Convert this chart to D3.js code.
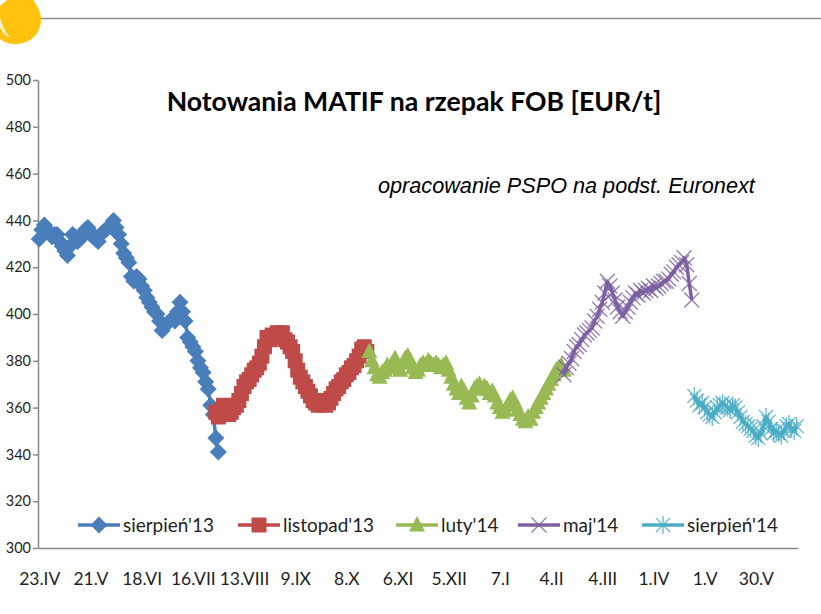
<!DOCTYPE html>
<html>
<head>
<meta charset="utf-8">
<script src="https://cdn.jsdelivr.net/npm/d3@7"></script>
<style>
  body { margin: 0; background: #fff; }
  svg { display: block; }
</style>
</head>
<body>
<div id="chart"></div>
<script>
// --- data (EUR/t, one value per trading day) ---
const nDays = 297;
const tickEvery = 20;  // one date label every 20 sessions
const tickLabels = ["23.IV", "21.V", "18.VI", "16.VII", "13.VIII", "9.IX", "8.X", "6.XI",
  "5.XII", "7.I", "4.II", "4.III", "1.IV", "1.V", "30.V"];
const yTicks = [300, 320, 340, 360, 380, 400, 420, 440, 460, 480, 500];

const seriesNames = ["sierpień'13", "listopad'13", "luty'14", "maj'14", "sierpień'14"];
const seriesStart = [0, 69, 129, 205, 256];

const sierpien13 = [432, 436, 438, 436, 435, 433, 434, 434, 431, 429,
  427, 425, 429, 434, 433, 431, 432, 434, 436, 437,
  435, 433, 432, 431, 434, 435, 436, 437, 438, 440,
  437, 434, 430, 426, 424, 422, 416, 414, 416, 415,
  412, 410, 407, 405, 403, 401, 400, 397, 393, 395,
  396, 397, 398, 397, 401, 405, 401, 397, 390, 388,
  386, 384, 380, 377, 375, 371, 368, 361, 357, 347,
  341];
const listopad13 = [358, 356, 359, 361, 360, 357, 358, 360, 361, 363,
  366, 369, 371, 372, 374, 376, 377, 379, 382, 386,
  390, 389, 391, 390, 392, 391, 392, 389, 388, 386,
  384, 380, 376, 373, 371, 369, 367, 365, 363, 362,
  361, 363, 362, 361, 362, 364, 366, 368, 369, 371,
  372, 374, 375, 377, 378, 380, 382, 385, 386, 384];
const luty14 = [384, 380, 377, 374, 373, 375, 376, 378, 377, 379,
  381, 378, 376, 379, 381, 382, 380, 377, 375, 376,
  378, 379, 378, 380, 379, 378, 379, 378, 377, 378,
  379, 376, 373, 370, 368, 366, 369, 367, 364, 362,
  365, 368, 369, 370, 368, 369, 368, 366, 367, 365,
  362, 360, 358, 359, 361, 363, 364, 362, 359, 357,
  355, 354, 356, 355, 358, 360, 362, 364, 366, 368,
  370, 372, 374, 376, 377, 378, 376];
const maj14 = [374, 377, 379, 381, 384, 386, 387, 389, 391, 392,
  393, 394, 397, 399, 402, 405, 409, 414, 412, 409,
  406, 403, 401, 399, 401, 403, 405, 407, 409, 408,
  410, 409, 410, 411, 410, 412, 411, 412, 413, 414,
  414, 415, 417, 418, 420, 421, 422, 424, 421, 413,
  406];
const sierpien14 = [365, 363, 361, 362, 360, 358, 357, 356, 358, 360,
  361, 362, 361, 360, 359, 361, 360, 358, 356, 354,
  353, 352, 351, 350, 348, 347, 349, 352, 356, 354,
  351, 349, 350, 349, 348, 350, 352, 353, 351, 350,
  352];

const seriesValues = [sierpien13, listopad13, luty14, maj14, sierpien14];

// --- styles ---
const colors = ["#4A7EBB", "#BE4B48", "#98B954", "#7D60A0", "#4BACC6"];
const markers = ["diamond", "square", "triangle", "x", "star"];
const legendX = [78, 238, 396, 518, 642];

const W = 821, H = 614;
const plot = { left: 38, right: 798, top: 80, bottom: 548 };
const textFont = "Lato, sans-serif";

const svg = d3.select("#chart").append("svg")
  .attr("width", W)
  .attr("height", H);

svg.append("rect").attr("width", W).attr("height", H).attr("fill", "#fff");

// logo blob and header rule at the top
svg.append("path")
  .attr("d", "M11,-3 L31,-3 C37,5 41,12 41,19 C41,34 30,44 15,44 C1,44 -9,33 -9,20 C-9,10 3,4 11,-3 Z")
  .attr("fill", "#FFC20E");
svg.append("path")
  .attr("d", "M0,18 C3,26 5,32 10,37 C3,36 -1,28 -1,20 Z")
  .attr("fill", "#FFF1C4");
svg.append("line")
  .attr("x1", 41).attr("x2", W)
  .attr("y1", 18.5).attr("y2", 18.5)
  .attr("stroke", "#8c8c8c")
  .attr("stroke-width", 1.5);

// scales
const x = d3.scaleLinear().domain([0, nDays]).range([plot.left, plot.right]);
const y = d3.scaleLinear().domain([300, 500]).range([plot.bottom, plot.top]);

// y axis
const yAxis = svg.append("g")
  .attr("transform", `translate(${plot.left},0)`)
  .call(d3.axisLeft(y).tickValues(yTicks).tickSize(5).tickPadding(2).tickSizeOuter(0));
yAxis.select(".domain").attr("stroke", "#898989").attr("stroke-width", 1.5);
yAxis.selectAll(".tick line").attr("stroke", "#898989").attr("stroke-width", 1.5);
yAxis.selectAll(".tick text")
  .attr("font-family", textFont)
  .attr("font-size", 14.5)
  .attr("fill", "#1f1f1f");

// x axis (labels only, between-category ticks hidden)
const xAxis = svg.append("g")
  .attr("transform", `translate(0,${plot.bottom})`)
  .call(d3.axisBottom(x)
    .tickValues(tickLabels.map((d, i) => i * tickEvery + 0.5))
    .tickFormat((d, i) => tickLabels[i])
    .tickSize(0).tickPadding(25).tickSizeOuter(0));
xAxis.select(".domain").attr("stroke", "#898989").attr("stroke-width", 1.5);
xAxis.selectAll(".tick text")
  .attr("font-family", textFont)
  .attr("font-size", 17.5)
  .attr("fill", "#1f1f1f");

// marker shapes
function markerPath(kind) {
  switch (kind) {
    case "diamond": return "M0,-8.5L8.5,0L0,8.5L-8.5,0Z";
    case "square": return "M-7.5,-7.5h15v15h-15Z";
    case "triangle": return "M0,-9L8,6.5L-8,6.5Z";
    case "x": return "M-7.5,-7.5L7.5,7.5M-7.5,7.5L7.5,-7.5";
    case "star": return "M-7,-7L7,7M-7,7L7,-7M0,-9L0,9";
  }
}
function styleMarker(sel, k) {
  const filled = ["diamond", "square", "triangle"].includes(markers[k]);
  sel.attr("d", markerPath(markers[k]))
    .attr("fill", filled ? colors[k] : "none")
    .attr("stroke", colors[k])
    .attr("stroke-opacity", filled ? 1 : 0.8)
    .attr("stroke-width", filled ? 0 : 1.4);
}

// series
const series = seriesNames.map((name, k) => ({
  name: name,
  k: k,
  points: seriesValues[k].map((v, j) => ({ i: seriesStart[k] + j, v: v }))
}));

const line = d3.line()
  .x(d => x(d.i + 0.5))
  .y(d => y(d.v));

series.forEach(s => {
  const g = svg.append("g");
  g.append("path")
    .datum(s.points)
    .attr("d", line)
    .attr("fill", "none")
    .attr("stroke", colors[s.k])
    .attr("stroke-width", 3.5)
    .attr("stroke-linejoin", "round");
  g.selectAll("path.m")
    .data(s.points)
    .join("path")
    .attr("class", "m")
    .attr("transform", d => `translate(${x(d.i + 0.5)},${y(d.v)})`)
    .call(styleMarker, s.k);
});

// legend
const legendY = 525;
const leg = svg.append("g");
series.forEach(s => {
  const lx = legendX[s.k];
  leg.append("line")
    .attr("x1", lx).attr("x2", lx + 42)
    .attr("y1", legendY).attr("y2", legendY)
    .attr("stroke", colors[s.k])
    .attr("stroke-width", 3.5);
  leg.append("path")
    .attr("transform", `translate(${lx + 21},${legendY})`)
    .call(styleMarker, s.k);
  leg.append("text")
    .attr("x", lx + 45)
    .attr("y", legendY)
    .attr("dy", "0.35em")
    .attr("font-family", textFont)
    .attr("font-size", 17)
    .attr("fill", "#1f1f1f")
    .text(s.name);
});

// legend font sized so the first entry spans what it does in the source
function fitWidth(sel, target) {
  const w = sel.node().getComputedTextLength();
  const fs = parseFloat(sel.attr("font-size"));
  sel.attr("font-size", fs * target / w);
}
const legTexts = leg.selectAll("text");
const legSize = 17 * 91 / legTexts.node().getComputedTextLength();
legTexts.attr("font-size", legSize);

// titles
svg.append("text")
  .attr("x", 414)
  .attr("y", 111)
  .attr("text-anchor", "middle")
  .attr("font-family", textFont)
  .attr("font-weight", "bold")
  .attr("font-size", 20)
  .attr("fill", "#000")
  .text("Notowania MATIF na rzepak FOB [EUR/t]")
  .call(fitWidth, 495);

svg.append("text")
  .attr("x", 378)
  .attr("y", 193)
  .attr("font-family", "'Liberation Sans', Arial, sans-serif")
  .attr("font-style", "italic")
  .attr("font-size", 18)
  .attr("fill", "#000")
  .text("opracowanie PSPO na podst. Euronext")
  .call(fitWidth, 377);
</script>
</body>
</html>
